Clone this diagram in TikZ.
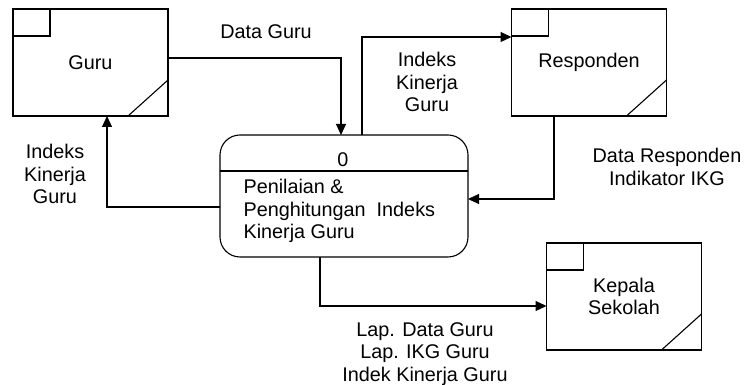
\documentclass[tikz,border=0pt]{standalone}
\usepackage{fontspec}
\setmainfont{Liberation Sans}
\usetikzlibrary{arrows.meta}

\begin{document}
\begin{tikzpicture}[
        x=1pt, y=1pt,
        font=\fontsize{19.8}{22.5}\selectfont,
        line width=1.1pt,
        E/.style = {rectangle, draw, % external entity box
                minimum width=155pt, minimum height=107pt,
                outer sep=0pt, align=center,
                path picture={
                    \draw (path picture bounding box.north west) rectangle
                          ++(37pt,-27pt);
                    \draw ([xshift=-40pt]path picture bounding box.south east) --
                          ([yshift=36pt]path picture bounding box.south east);
                }},
        P/.style = {rectangle, draw, rounded corners=20pt, % process
                minimum width=248pt, minimum height=122pt, outer sep=0pt},
        L/.style = {align=center, inner sep=0pt}, % flow labels
        F/.style = {-{Triangle[length=11pt,width=10pt]}},
    ]
    \useasboundingbox (0,0) rectangle (745,385);
    % entities and process
    \node[E] (guru) at (90.5,322.5) {Guru};
    \node[E] (resp) at (589,322.5) {Responden};
    \node[E] (kepsek) at (624,88.5) {Kepala\\Sekolah};
    \node[P] (proc) at (344,189) {};
    \draw (proc.west |- 0,214) -- (proc.east |- 0,214);
    \node[inner sep=0pt] (nomor) at (343,225) {0};
    \node[L, align=left, anchor=north west] (nama) at (243,206)
        {Penilaian \&\\Penghitungan\ \ Indeks\\Kinerja Guru};
    % data flows
    \draw[F] ([yshift=4.5pt]guru.east) -| ([xshift=-3pt]proc.north);
    \draw[F] ([xshift=18pt]proc.north) |- ([yshift=25.5pt]resp.west);
    \draw[F] ([xshift=-35pt]resp.south) |- ([yshift=-3pt]proc.east);
    \draw[F] ([yshift=-11pt]proc.west) -| ([xshift=16.5pt]guru.south);
    \draw[F] ([xshift=-24pt]proc.south) |- ([yshift=-9.5pt]kepsek.west);
    % flow labels
    \node[L] (lDataGuru) at (266,353) {Data Guru};
    \node[L] (lIKGresp) at (427,303) {Indeks\\Kinerja\\Guru};
    \node[L] (lDataResp) at (667,218) {Data Responden\\Indikator IKG};
    \node[L] (lIKGguru) at (55,211) {Indeks\\Kinerja\\Guru};
    \node[L] (lLaporan) at (425,31) {Lap. Data Guru\\Lap. IKG Guru\\Indek Kinerja Guru};
\end{tikzpicture}
\end{document}
